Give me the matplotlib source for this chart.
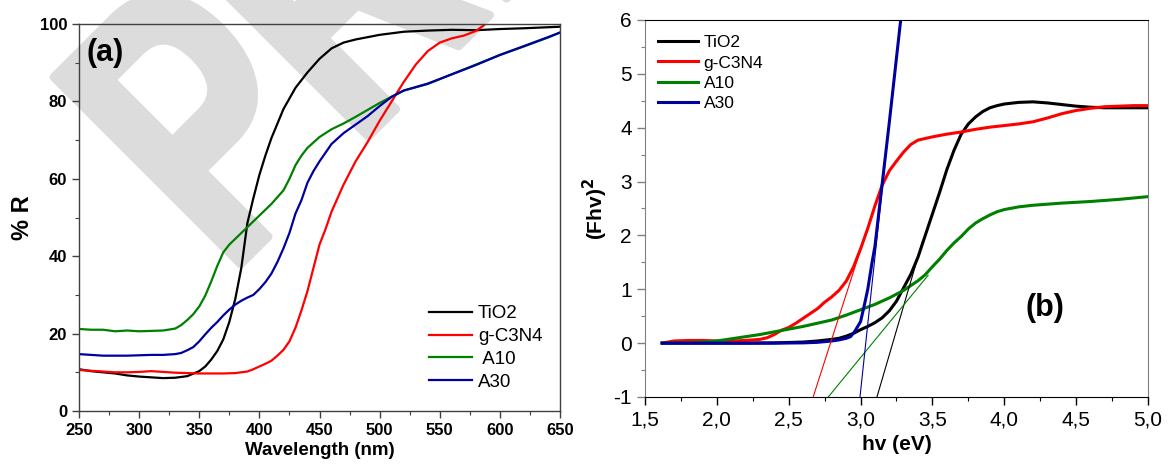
import numpy as np
import matplotlib.pyplot as plt
from matplotlib.ticker import MultipleLocator, FuncFormatter
from matplotlib.textpath import TextPath
from matplotlib.patches import PathPatch
from matplotlib.font_manager import FontProperties
from matplotlib.transforms import Affine2D, IdentityTransform

plt.rcParams['font.family'] = ['Liberation Sans', 'DejaVu Sans']

# ---- panel (a): reflectance spectra ----
wl_tio2 = [250, 260, 270, 280, 290, 300, 310, 320, 330, 340, 350, 355, 360, 365, 370, 375,
           380, 385, 390, 395, 400, 405, 410, 420, 430, 440, 450, 460, 470, 480, 490, 500,
           520, 540, 560, 580, 600, 620, 650]
r_tio2 = [10.8, 10.3, 10.0, 9.7, 9.2, 8.9, 8.7, 8.5, 8.6, 9.0, 10.3, 11.5, 13.3, 15.5, 18.5, 23,
          29, 37, 48.5, 55, 61, 66, 70.5, 78, 83.5, 87.5, 91, 93.7, 95.2, 96, 96.6, 97.2,
          98, 98.3, 98.5, 98.4, 98.7, 98.9, 99.3]

wl_gcn = [250, 260, 270, 280, 290, 300, 310, 320, 330, 340, 350, 360, 370, 380, 390, 395,
          400, 405, 410, 415, 420, 425, 430, 435, 440, 445, 450, 455, 460, 470, 480, 490,
          500, 510, 520, 530, 540, 550, 560, 570, 580, 585, 590, 595]
r_gcn = [10.6, 10.4, 10.2, 10.0, 10.0, 10.1, 10.3, 10.1, 9.9, 9.8, 9.7, 9.7, 9.7, 9.8, 10.2, 10.8,
         11.5, 12.2, 13, 14.3, 15.8, 18, 21.5, 26, 31, 37, 43, 47, 51.5, 58.5, 64.5, 69.5,
         75, 80, 85, 89.5, 93, 95.2, 96.3, 97, 98.2, 99.3, 100.5, 102]

wl_a10 = [250, 260, 270, 280, 290, 300, 310, 320, 330, 335, 340, 345, 350, 355, 360, 365,
          370, 375, 380, 385, 390, 395, 400, 410, 420, 425, 430, 435, 440, 450, 460, 470,
          480, 490, 500, 510, 520, 540, 560, 580, 600, 620, 640, 650]
r_a10 = [21.2, 21.0, 21.0, 20.6, 20.8, 20.6, 20.7, 20.8, 21.3, 22.2, 23.5, 25, 27, 29.8, 33.5, 37.5,
         41, 43, 44.5, 46, 47.5, 49, 50.5, 53.5, 57, 60, 63.5, 66, 68, 70.8, 72.8, 74.3,
         76, 77.8, 79.6, 81.2, 82.8, 84.5, 87, 89.5, 92, 94.2, 96.5, 97.8]

wl_a30 = [250, 260, 270, 280, 290, 300, 310, 320, 330, 335, 340, 345, 350, 355, 360, 365,
          370, 375, 380, 385, 390, 395, 400, 405, 410, 415, 420, 425, 430, 435, 440, 445,
          450, 460, 470, 480, 490, 500, 510, 520, 540, 560, 580, 600, 620, 640, 650]
r_a30 = [14.7, 14.5, 14.3, 14.3, 14.3, 14.4, 14.5, 14.5, 14.7, 15.0, 15.7, 16.5, 18, 19.8, 21.5, 23,
         24.7, 26.2, 27.5, 28.5, 29.3, 30, 31.5, 33.3, 35.5, 38.5, 42, 46, 51, 54.5, 59, 62,
         64.5, 69, 71.8, 74, 76.2, 78.8, 81.2, 82.8, 84.6, 87, 89.4, 92, 94.3, 96.6, 97.8]

wl_ticks = [250, 300, 350, 400, 450, 500, 550, 600, 650]
r_ticks = [0, 20, 40, 60, 80, 100]

# ---- panel (b): (Fhv)^2 vs photon energy ----
hv_tio2 = [1.62, 1.8, 2.0, 2.2, 2.4, 2.6, 2.7, 2.8, 2.85, 2.9, 2.95, 3.0, 3.05, 3.1, 3.15, 3.2,
           3.25, 3.3, 3.35, 3.4, 3.45, 3.5, 3.55, 3.6, 3.65, 3.7, 3.75, 3.8, 3.85, 3.9, 3.95, 4.0,
           4.1, 4.2, 4.3, 4.4, 4.5, 4.6, 4.7, 4.8, 4.9, 5.0]
f_tio2 = [0, 0, 0, 0, 0.005, 0.02, 0.04, 0.07, 0.09, 0.13, 0.18, 0.25, 0.31, 0.38, 0.47, 0.6,
          0.78, 1.03, 1.28, 1.6, 2.0, 2.4, 2.8, 3.22, 3.58, 3.88, 4.07, 4.2, 4.3, 4.37, 4.41, 4.44,
          4.47, 4.48, 4.46, 4.43, 4.4, 4.38, 4.37, 4.37, 4.37, 4.37]

hv_gcn = [1.62, 1.7, 1.8, 1.9, 2.0, 2.1, 2.2, 2.3, 2.35, 2.4, 2.45, 2.5, 2.55, 2.6, 2.65, 2.7,
          2.75, 2.8, 2.85, 2.9, 2.95, 3.0, 3.05, 3.1, 3.15, 3.2, 3.25, 3.3, 3.35, 3.4, 3.5, 3.6,
          3.7, 3.8, 3.9, 4.0, 4.1, 4.2, 4.3, 4.4, 4.5, 4.6, 4.7, 4.8, 4.9, 5.0]
f_gcn = [0.0, 0.04, 0.05, 0.05, 0.04, 0.04, 0.05, 0.07, 0.1, 0.16, 0.24, 0.29, 0.37, 0.46, 0.55, 0.64,
         0.76, 0.86, 0.98, 1.15, 1.41, 1.75, 2.13, 2.55, 2.93, 3.2, 3.38, 3.55, 3.69, 3.77, 3.83, 3.88,
         3.92, 3.97, 4.01, 4.04, 4.07, 4.11, 4.18, 4.26, 4.32, 4.36, 4.39, 4.4, 4.41, 4.41]

hv_a10 = [1.62, 1.8, 1.9, 2.0, 2.1, 2.2, 2.3, 2.4, 2.5, 2.6, 2.7, 2.8, 2.9, 3.0, 3.1, 3.2,
          3.3, 3.35, 3.4, 3.45, 3.5, 3.55, 3.6, 3.65, 3.7, 3.75, 3.8, 3.85, 3.9, 3.95, 4.0, 4.1,
          4.2, 4.4, 4.6, 4.8, 5.0]
f_a10 = [0.0, 0.01, 0.02, 0.04, 0.08, 0.12, 0.16, 0.21, 0.26, 0.31, 0.37, 0.43, 0.52, 0.62, 0.72, 0.84,
         0.98, 1.07, 1.16, 1.27, 1.42, 1.56, 1.72, 1.86, 1.98, 2.12, 2.23, 2.31, 2.38, 2.44, 2.48, 2.53,
         2.56, 2.6, 2.63, 2.67, 2.72]

hv_a30 = [1.62, 1.8, 2.0, 2.2, 2.4, 2.6, 2.7, 2.8, 2.85, 2.9, 2.93, 2.96, 3.0, 3.03, 3.05, 3.08,
          3.1, 3.15, 3.2, 3.25, 3.3]
f_a30 = [0, 0, 0, 0, 0, 0.005, 0.015, 0.04, 0.06, 0.09, 0.12, 0.22, 0.4, 0.75, 1.0, 1.5,
         1.8, 2.95, 4.1, 5.3, 6.5]

# linear fits (Tauc extrapolation), end points
fit_hv = {'TiO2': [3.114, 3.43], 'g-C3N4': [2.67, 3.05], 'A10': [2.775, 3.47], 'A30': [2.996, 3.28]}
fit_f = {'TiO2': [-1, 1.88], 'g-C3N4': [-1, 2.15], 'A10': [-1, 1.26], 'A30': [-1, 6.1]}

c_tio2, c_gcn, c_a10, c_a30 = 'black', '#ff0000', '#008000', '#0000a0'

fig = plt.figure(figsize=(11.68, 4.67), dpi=100)
fig.patch.set_facecolor('white')

# watermark: narrow, rotated, drawn behind the axes (pixel coordinates)
wm_path = TextPath((0, 0), 'PREVIEW', size=356,
                   prop=FontProperties(family='Liberation Sans', weight='bold'))
wm_tr = Affine2D().scale(0.76, 1.08).rotate_deg(45).translate(228, 190)
wm = PathPatch(wm_path, transform=wm_tr + IdentityTransform(), facecolor='#dcdcdc',
               edgecolor='#dcdcdc', lw=6, joinstyle='round', zorder=-5)
fig.patches.append(wm)

ax1 = fig.add_axes([0.0676, 0.1199, 0.4119, 0.8287])
ax2 = fig.add_axes([0.5522, 0.1499, 0.4307, 0.8073])
for ax in (ax1, ax2):
    ax.set_facecolor('none')

# (a)
ax1.plot(wl_tio2, r_tio2, color=c_tio2, lw=1.6, label='TiO2')
ax1.plot(wl_gcn, r_gcn, color=c_gcn, lw=1.6, label='g-C3N4')
ax1.plot(wl_a10, r_a10, color=c_a10, lw=1.6, label=' A10')
ax1.plot(wl_a30, r_a30, color=c_a30, lw=1.6, label='A30')
ax1.set_xlim(250, 650)
ax1.set_ylim(0, 100)
ax1.set_xticks(wl_ticks, [str(t) for t in wl_ticks], fontweight='bold', fontsize=12)
ax1.set_yticks(r_ticks, [str(t) for t in r_ticks], fontweight='bold', fontsize=12)
ax1.xaxis.set_minor_locator(MultipleLocator(25))
ax1.yaxis.set_minor_locator(MultipleLocator(10))
ax1.tick_params(which='both', direction='out', color='#404040')
ax1.tick_params(which='major', length=5, width=1)
ax1.tick_params(which='minor', length=3, width=0.8)
for sp in ax1.spines.values():
    sp.set_color('#404040')
    sp.set_linewidth(1)
ax1.set_xlabel('Wavelength (nm)', fontsize=13.5, fontweight='bold', labelpad=3)
ax1.set_ylabel('% R', fontsize=17, fontweight='bold', labelpad=4)
ax1.text(0.015, 0.925, '(a)', transform=ax1.transAxes, fontsize=22, fontweight='bold',
         ha='left', va='center')
ax1.legend(loc='center', bbox_to_anchor=(0.846, 0.163), frameon=False, fontsize=13.5,
           handlelength=2.3, handletextpad=0.3, labelspacing=0.3)

# (b)
ax2.plot(hv_tio2, f_tio2, color=c_tio2, lw=2.2, label='TiO2')
ax2.plot(hv_gcn, f_gcn, color=c_gcn, lw=2.2, label='g-C3N4')
ax2.plot(hv_a10, f_a10, color=c_a10, lw=2.2, label='A10')
ax2.plot(hv_a30, f_a30, color=c_a30, lw=2.2, label='A30')
for name, col in [('TiO2', c_tio2), ('g-C3N4', c_gcn), ('A10', c_a10), ('A30', c_a30)]:
    ax2.plot(fit_hv[name], fit_f[name], color=col, lw=0.8)
ax2.set_xlim(1.5, 5.0)
ax2.set_ylim(-1, 6)
ax2.xaxis.set_major_locator(MultipleLocator(0.5))
ax2.xaxis.set_minor_locator(MultipleLocator(0.25))
ax2.yaxis.set_major_locator(MultipleLocator(1))
ax2.yaxis.set_minor_locator(MultipleLocator(0.5))
ax2.xaxis.set_major_formatter(FuncFormatter(lambda v, p: f'{v:.1f}'.replace('.', ',')))
ax2.yaxis.set_major_formatter(FuncFormatter(lambda v, p: f'{v:.0f}'))
ax2.tick_params(which='both', direction='out')
ax2.tick_params(which='major', length=6, width=1, labelsize=15)
ax2.tick_params(which='minor', length=3, width=0.8)
ax2.tick_params(axis='y', which='both', color='#808080')
ax2.spines['left'].set_color('#808080')
ax2.spines['right'].set_color('#808080')
ax2.spines['top'].set_color('black')
ax2.spines['bottom'].set_color('black')
ax2.set_xlabel('hv (eV)', fontsize=15, fontweight='bold', labelpad=4)
ax2.set_ylabel('(Fhv)$^\\mathbf{2}$', fontsize=15, fontweight='bold', labelpad=2)
ax2.text(4.28, 0.65, '(b)', fontsize=22, fontweight='bold', ha='center', va='center')
ax2.legend(loc='center', bbox_to_anchor=(0.131, 0.859), frameon=False, fontsize=12.5,
           handlelength=2.3, handletextpad=0.3, labelspacing=0.3)

fig.savefig('out.png', dpi=100)
